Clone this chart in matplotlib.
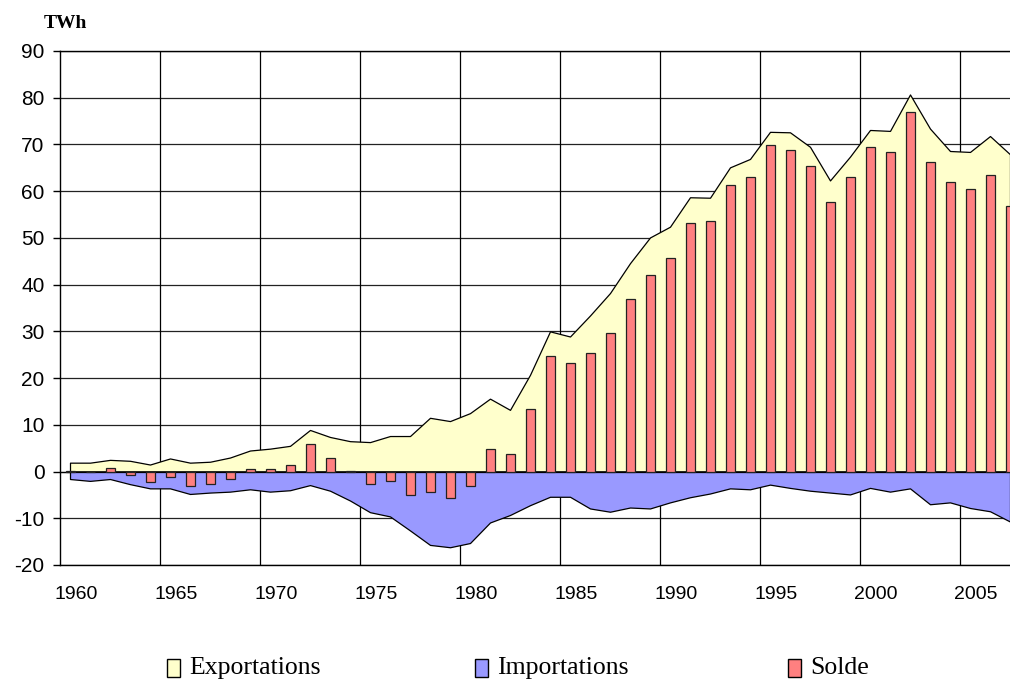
import matplotlib
matplotlib.use("Agg")
import matplotlib.pyplot as plt
from matplotlib.patches import Rectangle
import numpy as np

years = list(range(1960, 2008))
exportations = [1.9, 1.9, 2.5, 2.3, 1.5, 2.8, 1.9, 2.1, 3.0, 4.5,
                4.9, 5.5, 8.9, 7.4, 6.5, 6.3, 7.6, 7.6, 11.5, 10.8,
                12.5, 15.6, 13.2, 20.7, 30.0, 28.9, 33.4, 38.2, 44.6, 50.1,
                52.4, 58.7, 58.6, 65.1, 66.9, 72.7, 72.6, 69.5, 62.3, 67.4,
                73.1, 72.9, 80.7, 73.4, 68.6, 68.4, 71.8, 67.9]
importations = [-1.6, -2.0, -1.6, -2.7, -3.6, -3.6, -4.8, -4.5, -4.3, -3.8,
                -4.3, -4.0, -2.9, -4.1, -6.2, -8.7, -9.6, -12.6, -15.7, -16.2,
                -15.3, -10.9, -9.3, -7.2, -5.4, -5.4, -7.9, -8.6, -7.7, -7.9,
                -6.6, -5.5, -4.7, -3.6, -3.8, -2.8, -3.5, -4.1, -4.5, -4.9,
                -3.5, -4.3, -3.6, -7.0, -6.6, -7.8, -8.5, -10.7]
solde = [0.2, -0.2, 0.8, -0.7, -2.3, -1.1, -3.0, -2.6, -1.6, 0.6,
         0.6, 1.3, 6.0, 3.0, 0.1, -2.6, -2.1, -5.0, -4.3, -5.7,
         -3.2, 4.8, 3.7, 13.4, 24.7, 23.3, 25.4, 29.6, 36.9, 42.1,
         45.7, 53.2, 53.7, 61.4, 63.1, 69.8, 68.9, 65.4, 57.6, 63.1,
         69.5, 68.4, 77.0, 66.3, 61.9, 60.4, 63.4, 56.9]
xtick_years = list(range(1960, 2006, 5))
yticks = list(range(-20, 91, 10))
legend_labels = ["Exportations", "Importations", "Solde"]

c_exp = "#FFFFCC"
c_imp = "#9999FF"
c_sol = "#FF8080"

W, H = 1010, 680
fig = plt.figure(figsize=(W / 100, H / 100), dpi=100)
ax = fig.add_axes([60 / W, 1 - 565 / H, 950 / W, (565 - 51) / H])

ax.fill_between(years, 0, exportations, facecolor=c_exp, edgecolor="black", linewidth=0.9, zorder=2)
ax.fill_between(years, importations, 0, facecolor=c_imp, edgecolor="black", linewidth=0.9, zorder=2)
ax.bar(years, solde, width=0.45, color=c_sol, edgecolor="#222222", linewidth=0.9, zorder=3)
ax.axhline(0, color="black", linewidth=0.9, zorder=2.5)

ax.set_xlim(1959.5, 2007.0)
ax.set_ylim(-20, 90)
ax.set_yticks(yticks)
ax.set_yticklabels([str(v) for v in yticks], fontfamily="Liberation Sans", fontsize=15)
ax.set_xticks([y + 0.3 for y in xtick_years])
ax.set_xticklabels([str(y) for y in xtick_years], fontfamily="Liberation Sans", fontsize=14)
ax.tick_params(axis="x", length=0, pad=15)
ax.tick_params(axis="y", length=5, width=1, pad=6, color="black")

ax.set_axisbelow(True)
for v in yticks:
    ax.axhline(v, color="#222222", linewidth=0.9, zorder=0)
for y in xtick_years[1:]:
    ax.axvline(y - 0.5, color="black", linewidth=0.9, zorder=0)

for s in ["right"]:
    ax.spines[s].set_visible(False)
for s in ["left", "top", "bottom"]:
    ax.spines[s].set_color("black")
    ax.spines[s].set_linewidth(1.0)
ax.spines["top"].set_zorder(0)

fig.text(44 / W, 1 - 24 / H, "TWh", fontfamily="Liberation Serif", fontweight="bold",
         fontsize=14, va="center", ha="left")

# legend
leg_items = [(167, c_exp, legend_labels[0]), (475, c_imp, legend_labels[1]), (788, c_sol, legend_labels[2])]
for x0, col, lab in leg_items:
    r = Rectangle((x0 / W, 1 - 677 / H), 13 / W, 18 / H, transform=fig.transFigure,
                  facecolor=col, edgecolor="black", linewidth=1.0)
    fig.add_artist(r)
    fig.text((x0 + 22) / W, 1 - 668 / H, lab, fontfamily="Liberation Serif",
             fontsize=18.5, va="center", ha="left")

fig.savefig("out.png", dpi=100)
